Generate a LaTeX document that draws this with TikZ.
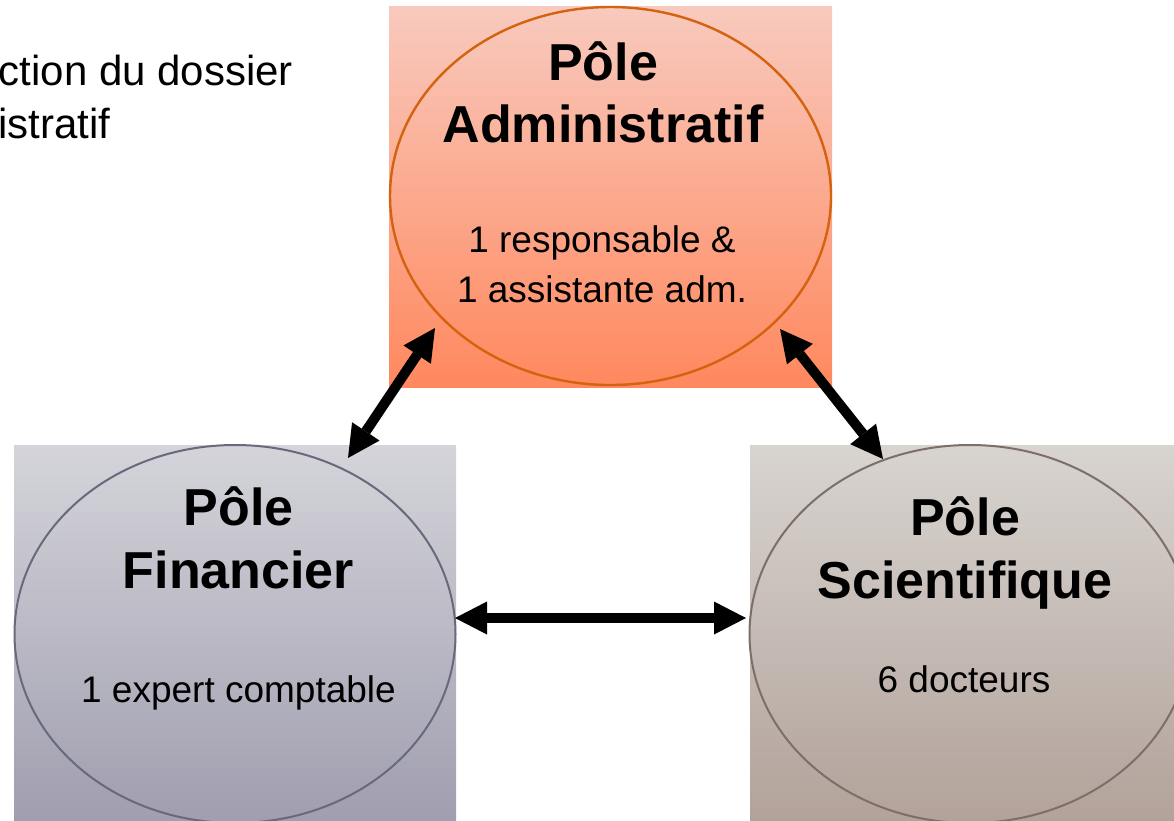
\documentclass[tikz,border=0pt]{standalone}
\usepackage{fontspec}
\setmainfont{Liberation Sans}
\usetikzlibrary{shapes.geometric,arrows.meta}
\definecolor{admTop}{RGB}{248,202,190}
\definecolor{admBot}{RGB}{255,136,94}
\definecolor{admLine}{RGB}{212,98,14}
\definecolor{finTop}{RGB}{212,212,218}
\definecolor{finBot}{RGB}{160,158,175}
\definecolor{finLine}{RGB}{105,105,125}
\definecolor{sciTop}{RGB}{216,212,208}
\definecolor{sciBot}{RGB}{178,162,154}
\definecolor{sciLine}{RGB}{125,110,105}
\begin{document}
\begin{tikzpicture}[x=1pt,y=-1pt,
  pole/.style={ellipse, draw, line width=2pt, minimum width=441pt, minimum height=378pt, inner sep=0pt, outer sep=0pt},
  titletext/.style={anchor=base, font=\fontsize{52}{62}\selectfont\bfseries, inner sep=0pt},
  bodytext/.style={anchor=base, font=\fontsize{37}{44}\selectfont, inner sep=0pt},
  notetext/.style={anchor=base west, font=\fontsize{42}{50}\selectfont, inner sep=0pt},
  link/.style={line width=10pt, arrows={Triangle[length=32pt,width=33pt,line width=0pt]-Triangle[length=32pt,width=33pt,line width=0pt]}}]
\useasboundingbox (0,0) rectangle (1174,820);
\clip (0,0) rectangle (1174,820);
% background boxes
\shade[top color=admTop, bottom color=admBot] (389,6) rectangle (832,387);
\shade[top color=finTop, bottom color=finBot] (14,445) rectangle (456,820);
\shade[top color=sciTop, bottom color=sciBot] (750,445) rectangle (1200,820);
% ellipses
\node[pole, draw=admLine, line width=2.4pt] (adm) at (610.5,196) {};
\node[pole, draw=finLine] (fin) at (235,634) {};
\node[pole, draw=sciLine] (sci) at (970,634) {};
% texts
\node[notetext] (note1) at (-1.5,85) {ction du dossier};
\node[notetext] (note2) at (-2,138) {istratif};
\node[titletext] (admT1) at (603,80) {Pôle};
\node[titletext] (admT2) at (603,142) {Administratif};
\node[bodytext] (admB1) at (602,252) {1 responsable \&};
\node[bodytext] (admB2) at (602,302) {1 assistante adm.};
\node[titletext] (finT1) at (238.5,525) {Pôle};
\node[titletext] (finT2) at (238.5,588) {Financier};
\node[bodytext] (finB1) at (238.5,702) {1 expert comptable};
\node[titletext] (sciT1) at (965,535) {Pôle};
\node[titletext] (sciT2) at (965,598) {Scientifique};
\node[bodytext] (sciB1) at (964,692) {6 docteurs};
% connectors
\draw[link] ([shift={(113,-176)}]fin.center) -- ([shift={(-175.5,132)}]adm.center);
\draw[link] ([shift={(169.5,133)}]adm.center) -- ([shift={(-87,-175)}]sci.center);
\draw[link] ([shift={(220,-16)}]fin.center) -- ([shift={(-224,-16)}]sci.center);
\end{tikzpicture}
\end{document}
